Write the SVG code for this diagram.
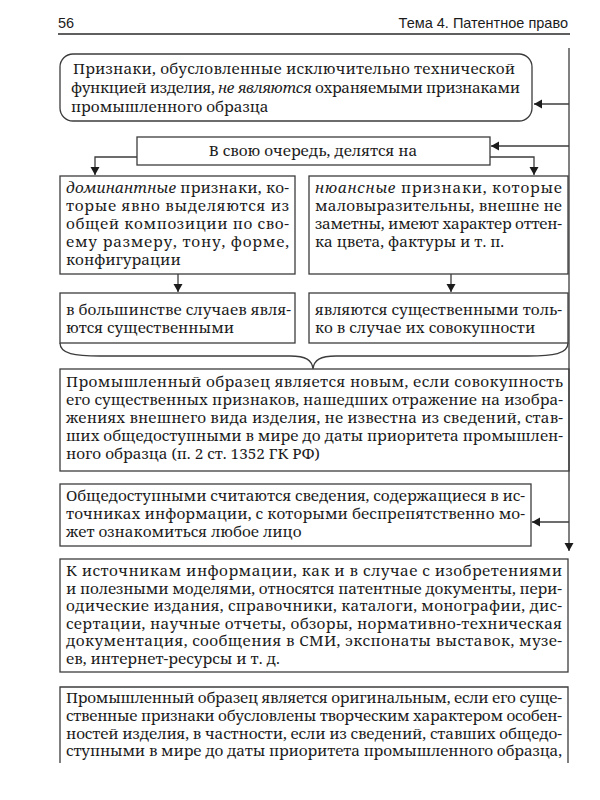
<svg xmlns="http://www.w3.org/2000/svg" width="600" height="800" viewBox="0 0 600 800">
<defs>
<style>
.box{fill:none;stroke:#3c3c3c;stroke-width:1.3}
.ln{fill:none;stroke:#3c3c3c;stroke-width:1.3}
.t{font-family:'Noto Serif','DejaVu Serif','Liberation Serif',serif;font-size:15.3px;fill:#1c1c1c}
.h{font-family:'Liberation Sans',Arial,sans-serif;font-size:14.5px;fill:#1c1c1c}
.i{font-style:italic}
</style>
<marker id="ar" markerUnits="userSpaceOnUse" markerWidth="9" markerHeight="10" refX="8" refY="4.5" orient="auto">
<path d="M0,0 L8,4.5 L0,9 z" fill="#1c1c1c"/>
</marker>
</defs>
<rect width="600" height="800" fill="#ffffff"/>
<g id="header">
<text class="h" x="58" y="28">56</text>
<text class="h" x="568" y="28" text-anchor="end">Тема 4. Патентное право</text>
<line x1="58" y1="34" x2="570" y2="34" stroke="#2a2a2a" stroke-width="1.4"/>
</g>
<g id="connectors">
<path class="ln" d="M569,48 V551" marker-end="url(#ar)"/>
<path class="ln" d="M569,104 H534" marker-end="url(#ar)"/>
<path class="ln" d="M569,146 H491" marker-end="url(#ar)"/>
<path class="ln" d="M569,522 H532" marker-end="url(#ar)"/>
<path class="ln" d="M137,157 H95 V175" marker-end="url(#ar)"/>
<path class="ln" d="M490,157 H534 V175" marker-end="url(#ar)"/>
<path class="ln" d="M178,274 V292" marker-end="url(#ar)"/>
<path class="ln" d="M451,274 V292" marker-end="url(#ar)"/>
<path class="ln" d="M60,343 C60,354 75,356 100,356 L290,356 C306,356 312,360 313,369 C314,360 320,356 336,356 L528,356 C553,356 568,354 568,343"/>
</g>
<g id="n1">
<rect class="box" x="60" y="54" width="472" height="67" rx="13"/>
<text class="t" x="73" y="74" textLength="442" lengthAdjust="spacing">Признаки, обусловленные исключительно технической</text>
<text class="t" x="71" y="93" textLength="449" lengthAdjust="spacing">функцией изделия, <tspan class="i">не являются</tspan> охраняемыми признаками</text>
<text class="t" x="71" y="112">промышленного образца</text>
</g>
<g id="n2">
<rect class="box" x="137" y="137" width="353" height="28"/>
<text class="t" x="313" y="156" text-anchor="middle">В свою очередь, делятся на</text>
</g>
<g id="n3">
<rect class="box" x="60" y="176" width="235" height="98"/>
<text class="t" x="66" y="193" textLength="223" lengthAdjust="spacing"><tspan class="i">доминантные</tspan> признаки, ко-</text>
<text class="t" x="66" y="211" textLength="223" lengthAdjust="spacing">торые явно выделяются из</text>
<text class="t" x="66" y="229" textLength="223" lengthAdjust="spacing">общей композиции по сво-</text>
<text class="t" x="66" y="247" textLength="223" lengthAdjust="spacing">ему размеру, тону, форме,</text>
<text class="t" x="66" y="265">конфигурации</text>
</g>
<g id="n4">
<rect class="box" x="309" y="176" width="259" height="98"/>
<text class="t" x="315" y="193" textLength="247" lengthAdjust="spacing"><tspan class="i">нюансные</tspan> признаки, которые</text>
<text class="t" x="315" y="211" textLength="247" lengthAdjust="spacing">маловыразительны, внешне не</text>
<text class="t" x="315" y="229" textLength="247" lengthAdjust="spacing">заметны, имеют характер оттен-</text>
<text class="t" x="315" y="247">ка цвета, фактуры и т. п.</text>
</g>
<g id="n5">
<rect class="box" x="60" y="293" width="235" height="50"/>
<text class="t" x="66" y="315" textLength="225" lengthAdjust="spacing">в большинстве случаев явля-</text>
<text class="t" x="66" y="333">ются существенными</text>
</g>
<g id="n6">
<rect class="box" x="309" y="293" width="259" height="50"/>
<text class="t" x="315" y="315" textLength="247" lengthAdjust="spacing">являются существенными толь-</text>
<text class="t" x="315" y="333">ко в случае их совокупности</text>
</g>
<g id="n7">
<rect class="box" x="60" y="369" width="509" height="102"/>
<text class="t" x="66" y="387" textLength="497" lengthAdjust="spacing">Промышленный образец является новым, если совокупность</text>
<text class="t" x="66" y="405" textLength="497" lengthAdjust="spacing">его существенных признаков, нашедших отражение на изобра-</text>
<text class="t" x="66" y="423" textLength="497" lengthAdjust="spacing">жениях внешнего вида изделия, не известна из сведений, став-</text>
<text class="t" x="66" y="441" textLength="497" lengthAdjust="spacing">ших общедоступными в мире до даты приоритета промышлен-</text>
<text class="t" x="66" y="459">ного образца (п. 2 ст. 1352 ГК РФ)</text>
</g>
<g id="n8">
<rect class="box" x="60" y="484" width="471" height="62"/>
<text class="t" x="66" y="501" textLength="459" lengthAdjust="spacing">Общедоступными считаются сведения, содержащиеся в ис-</text>
<text class="t" x="66" y="519" textLength="459" lengthAdjust="spacing">точниках информации, с которыми беспрепятственно мо-</text>
<text class="t" x="66" y="537">жет ознакомиться любое лицо</text>
</g>
<g id="n9">
<rect class="box" x="60" y="559" width="508" height="113"/>
<text class="t" x="66" y="576" textLength="496" lengthAdjust="spacing">К источникам информации, как и в случае с изобретениями</text>
<text class="t" x="66" y="593.6" textLength="496" lengthAdjust="spacing">и полезными моделями, относятся патентные документы, пери-</text>
<text class="t" x="66" y="611.2" textLength="496" lengthAdjust="spacing">одические издания, справочники, каталоги, монографии, дис-</text>
<text class="t" x="66" y="628.8" textLength="496" lengthAdjust="spacing">сертации, научные отчеты, обзоры, нормативно-техническая</text>
<text class="t" x="66" y="646.4" textLength="496" lengthAdjust="spacing">документация, сообщения в СМИ, экспонаты выставок, музе-</text>
<text class="t" x="66" y="664">ев, интернет-ресурсы и т. д.</text>
</g>
<g id="n10">
<path class="box" d="M60,763 V687 H568 V763"/>
<text class="t" x="66" y="703" textLength="496" lengthAdjust="spacing">Промышленный образец является оригинальным, если его суще-</text>
<text class="t" x="66" y="721" textLength="496" lengthAdjust="spacing">ственные признаки обусловлены творческим характером особен-</text>
<text class="t" x="66" y="738.5" textLength="496" lengthAdjust="spacing">ностей изделия, в частности, если из сведений, ставших общедо-</text>
<text class="t" x="66" y="756" textLength="496" lengthAdjust="spacing">ступными в мире до даты приоритета промышленного образца,</text>
</g>
</svg>
